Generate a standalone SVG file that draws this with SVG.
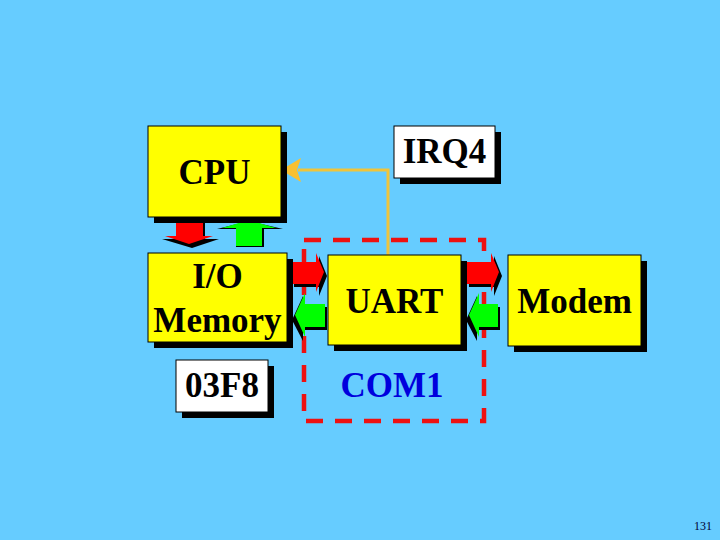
<svg xmlns="http://www.w3.org/2000/svg" width="720" height="540" viewBox="0 0 720 540">
<style>
.bg{fill:#66CCFF}
.box{fill:#FFFF00;stroke:#000;stroke-width:1}
.wbox{fill:#FFFFFF;stroke:#000;stroke-width:1}
.sh{fill:#000}
.t{font-family:"Liberation Serif","Times New Roman",serif;font-weight:bold;font-size:35px;fill:#000;text-anchor:middle}
.blue{fill:#0000DD}
.red{fill:#FF0000}
.grn{fill:#00FF00}
</style>
<rect class="bg" x="0" y="0" width="720" height="540"/>

<g id="com1">
  <rect x="304" y="240" width="180" height="181" fill="none" stroke="#EE1111" stroke-width="4.5" stroke-dasharray="17 12"/>
  <text class="t blue" x="392" y="397">COM1</text>
</g>

<g id="connectors">
  <polyline points="388,255 388,170 298,170" fill="none" stroke="#F0C43A" stroke-width="3"/>
  <polygon points="281,170 301,158 297,170 301,182" fill="#F8C030"/>
  <g id="arrow-cpu-io">
    <polygon class="sh" points="178,220 205,220 205,239 219,239 192,248 162,239 178,239"/>
    <polygon class="red" points="176,218 203,218 203,236 213,236 189,244 165,236 176,236"/>
  </g>
  <g id="arrow-io-cpu">
    <polygon class="sh" points="217,229 249,221 283,229 264,229 264,247 236,247 236,229"/>
    <polygon class="grn" points="236,246 236,228 222,228 249,220 276,228 262,228 262,246"/>
  </g>
  <g id="arrow-io-uart">
    <polygon class="sh" points="294,265 319,265 319,256 327,276 319,296 319,287 294,287"/>
    <polygon class="red" points="292,262 316,262 316,253 324,272 316,292 316,284 292,284"/>
  </g>
  <g id="arrow-uart-io">
    <polygon class="sh" points="327,307 303,307 303,296 292,320 303,341 303,330 327,330"/>
    <polygon class="grn" points="325,304 305,304 305,293 295,315 305,337 305,327 325,327"/>
  </g>
  <g id="arrow-uart-modem">
    <polygon class="sh" points="469,265 494,265 494,256 502,276 494,296 494,287 469,287"/>
    <polygon class="red" points="467,262 491,262 491,253 499,272 491,292 491,284 467,284"/>
  </g>
  <g id="arrow-modem-uart">
    <polygon class="sh" points="500,307 477,307 477,296 466,320 477,341 477,330 500,330"/>
    <polygon class="grn" points="498,304 479,304 479,293 469,315 479,337 479,327 498,327"/>
  </g>
</g>

<g id="cpu">
  <rect class="sh" x="154" y="132" width="133" height="91"/>
  <rect class="box" x="148" y="126" width="133" height="91"/>
  <text class="t" x="214.5" y="184">CPU</text>
</g>

<g id="irq4">
  <rect class="sh" x="400" y="132" width="101" height="52"/>
  <rect class="wbox" x="394" y="126" width="101" height="52"/>
  <text class="t" x="444.5" y="163">IRQ4</text>
</g>

<g id="io-memory">
  <rect class="sh" x="154" y="259" width="139" height="89"/>
  <rect class="box" x="148" y="253" width="139" height="89"/>
  <text class="t" x="217.5" y="288">I/O</text>
  <text class="t" x="217.5" y="332">Memory</text>
</g>

<g id="addr">
  <rect class="sh" x="182" y="366" width="92" height="52"/>
  <rect class="wbox" x="176" y="360" width="92" height="52"/>
  <text class="t" x="222" y="397">03F8</text>
</g>

<g id="uart">
  <rect class="sh" x="334" y="261" width="133" height="90"/>
  <rect class="box" x="328" y="255" width="133" height="90"/>
  <text class="t" x="394.5" y="313">UART</text>
</g>

<g id="modem">
  <rect class="sh" x="514" y="261" width="133" height="91"/>
  <rect class="box" x="508" y="255" width="133" height="91"/>
  <text class="t" x="574.5" y="313">Modem</text>
</g>

<text x="712" y="530" font-family="Liberation Serif, Times New Roman, serif" font-size="12" fill="#000033" text-anchor="end">131</text>
</svg>
